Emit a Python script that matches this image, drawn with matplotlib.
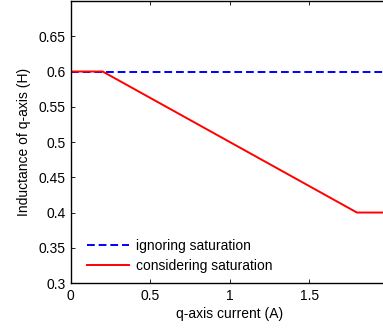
import matplotlib
matplotlib.use('Agg')
import matplotlib.pyplot as plt

plt.rcParams['font.family'] = ['Liberation Sans', 'DejaVu Sans']
plt.rcParams['font.size'] = 10

# data
current_ign = [0, 2]
l_ign = [0.6, 0.6]
current_sat = [0, 0.2, 1.8, 2]
l_sat = [0.6, 0.6, 0.4, 0.4]
xticks = [0, 0.5, 1, 1.5, 2]
yticks = [0.3, 0.35, 0.4, 0.45, 0.5, 0.55, 0.6, 0.65, 0.7]

fig = plt.figure(figsize=(3.83, 3.28), dpi=100)
# right part of the axes is cut off in the reference
ax = fig.add_axes([0.185, 0.137, 0.83, 0.86])
ax.plot(current_ign, l_ign, '--', color='blue', linewidth=1.4, dashes=(4, 2), label='ignoring saturation')
ax.plot(current_sat, l_sat, '-', color='red', linewidth=1.4, label='considering saturation')
ax.set_xlim(0, 2)
ax.set_ylim(0.3, 0.7)
ax.set_xticks(xticks)
ax.set_xticklabels(['0', '0.5', '1', '1.5', ''])
ax.set_yticks(yticks)
ax.set_yticklabels(['0.3', '0.35', '0.4', '0.45', '0.5', '0.55', '0.6', '0.65', ''])
ax.tick_params(direction='in', top=True, right=True, length=3, width=0.6, pad=4)
for s in ax.spines.values():
    s.set_linewidth(1.0)
ax.set_xlabel('q-axis current (A)', labelpad=3)
ax.set_ylabel('Inductance of q-axis (H)', labelpad=5)
ax.legend(loc='lower left', frameon=False, handlelength=3.0, handletextpad=0.5, borderaxespad=0.3,
          labelspacing=0.45, bbox_to_anchor=(0.02, 0.0))

fig.savefig('out.png', dpi=100)
